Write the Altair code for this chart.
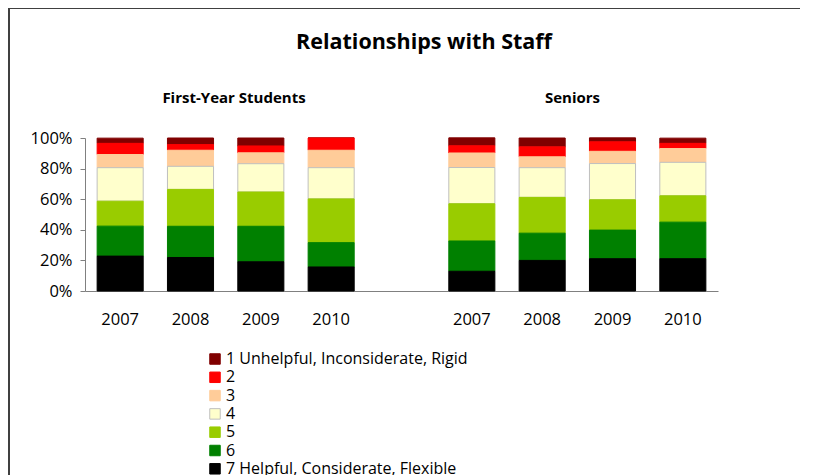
import altair as alt
import pandas as pd

# ---- data ----
bar_keys = ["F2007", "F2008", "F2009", "F2010", "S2007", "S2008", "S2009", "S2010"]
x_domain = ["F2007", "F2008", "F2009", "F2010", "_", "S2007", "S2008", "S2009", "S2010"]
ratings = [
    "1 Unhelpful, Inconsiderate, Rigid",
    "2",
    "3",
    "4",
    "5",
    "6",
    "7 Helpful, Considerate, Flexible",
]
r1 = [3.4, 4.3, 5.2, 0.0, 5.2, 5.8, 2.6, 3.4]
r2 = [7.3, 3.7, 4.5, 8.0, 4.7, 6.5, 6.2, 3.4]
r3 = [8.6, 10.5, 7.1, 11.4, 9.5, 7.1, 8.0, 9.0]
r4 = [21.9, 15.1, 18.5, 20.4, 23.7, 19.4, 23.7, 21.9]
r5 = [16.3, 24.1, 22.4, 28.6, 24.3, 23.4, 19.8, 17.2]
r6 = [19.6, 20.4, 23.2, 15.9, 19.8, 17.8, 18.7, 23.9]
r7 = [22.8, 21.9, 19.1, 15.7, 12.9, 20.0, 21.1, 21.1]
series = [r1, r2, r3, r4, r5, r6, r7]

fill_colors = ["#800000", "#FF0000", "#FFCC99", "#FFFFCC", "#99CC00", "#008000", "#000000"]
stroke_colors = ["#800000", "#FF0000", "#FFCC99", "#BFBFBF", "#99CC00", "#008000", "#000000"]

rows = []
for rank, (label, vals) in enumerate(zip(ratings, series), start=1):
    for key, v in zip(bar_keys, vals):
        rows.append({"key": key, "rating": label, "rank": rank, "value": v})
df = pd.DataFrame(rows)

FONT = "Open Sans"

legend_kw = dict(
    title=None,
    orient="none",
    legendX=122,
    legendY=213,
    symbolType="square",
    symbolSize=110,
    symbolStrokeWidth=1,
    labelFontSize=16,
    labelFont=FONT,
    labelColor="#000000",
    rowPadding=2.3,
    labelOffset=3,
    padding=0,
    labelLimit=400,
)

bars = alt.Chart(df).mark_bar(strokeWidth=1).encode(
    x=alt.X(
        "key:N",
        scale=alt.Scale(domain=x_domain, paddingInner=0.345, paddingOuter=0.1725),
        axis=alt.Axis(
            title=None,
            labelExpr="substring(datum.value, 1)",
            labelAngle=0,
            ticks=False,
            tickSize=0,
            labelPadding=20,
            labelFontSize=16.5,
            labelFont=FONT,
            labelColor="#000000",
            domainColor="#808080",
            domainWidth=1,
        ),
    ),
    y=alt.Y(
        "value:Q",
        stack="zero",
        scale=alt.Scale(domain=[0, 100], nice=False),
        axis=alt.Axis(
            title=None,
            values=[0, 20, 40, 60, 80, 100],
            labelExpr="datum.value + '%'",
            grid=False,
            tickSize=5,
            tickColor="#808080",
            domainColor="#808080",
            labelPadding=8,
            labelFontSize=16.5,
            labelFont=FONT,
            labelColor="#000000",
        ),
    ),
    color=alt.Color(
        "rating:N",
        scale=alt.Scale(domain=ratings, range=fill_colors),
        legend=alt.Legend(**legend_kw),
    ),
    stroke=alt.Stroke(
        "rating:N",
        scale=alt.Scale(domain=ratings, range=stroke_colors),
        legend=alt.Legend(**legend_kw),
    ),
    order=alt.Order("rank:Q", sort="descending"),
)

one = pd.DataFrame({"t": [0]})

title = alt.Chart(pd.DataFrame({"t": ["Relationships with Staff"]})).mark_text(
    font=FONT, fontSize=21.5, fontWeight="bold", color="#000000", align="center", baseline="alphabetic"
).encode(text="t:N", x=alt.value(339), y=alt.value(-89))

sub1 = alt.Chart(pd.DataFrame({"t": ["First-Year Students"]})).mark_text(
    font=FONT, fontSize=15, fontWeight="bold", color="#000000", align="center", baseline="alphabetic"
).encode(text="t:N", x=alt.value(149), y=alt.value(-35))

sub2 = alt.Chart(pd.DataFrame({"t": ["Seniors"]})).mark_text(
    font=FONT, fontSize=15, fontWeight="bold", color="#000000", align="center", baseline="alphabetic"
).encode(text="t:N", x=alt.value(487.5), y=alt.value(-35))

border_top = alt.Chart(one).mark_rule(stroke="#404040", strokeWidth=2).encode(
    x=alt.value(-76), x2=alt.value(800), y=alt.value(-130)
)
border_left = alt.Chart(one).mark_rule(stroke="#404040", strokeWidth=2).encode(
    x=alt.value(-76), y=alt.value(-131), y2=alt.value(400)
)

chart = alt.layer(border_top, border_left, bars, title, sub1, sub2).properties(
    width=633,
    height=153,
    autosize=alt.AutoSizeParams(type="none"),
    padding={"left": 77, "top": 130, "right": 82, "bottom": 184},
    background="white",
).configure_view(stroke=None)

chart.save("out.html", embed_options={"renderer": "svg", "actions": False})
